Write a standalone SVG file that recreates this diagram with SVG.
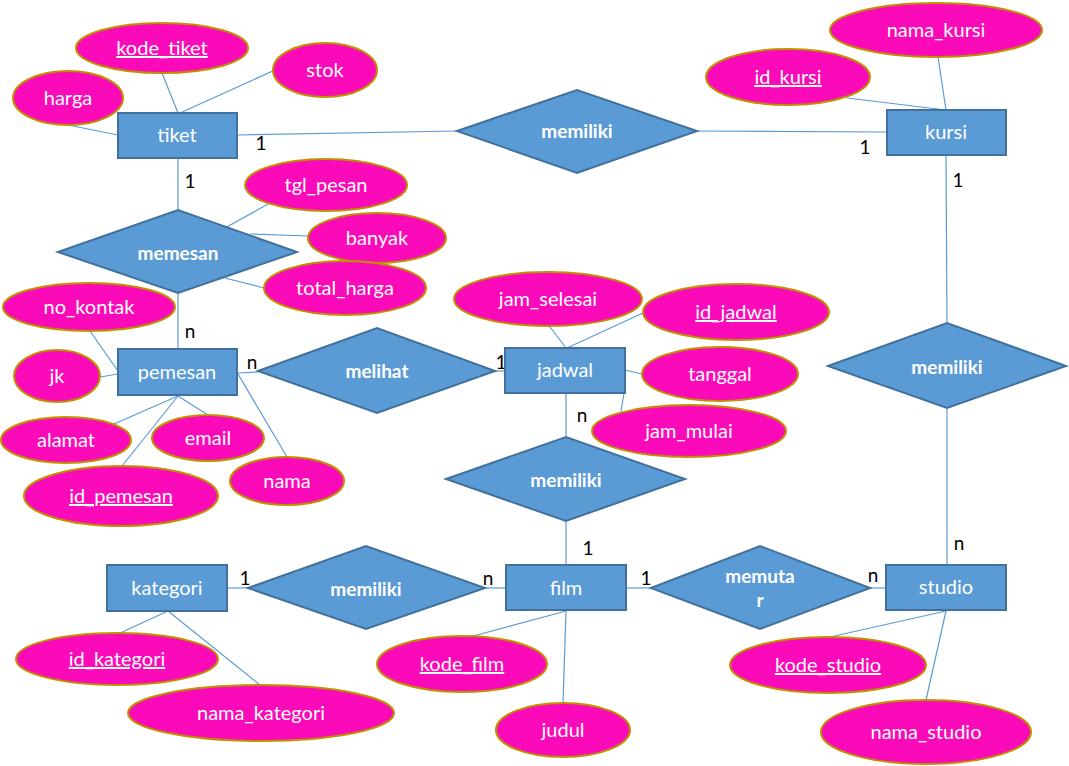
<svg xmlns="http://www.w3.org/2000/svg" width="1069" height="766" viewBox="0 0 1069 766">
<style>
.ent rect{fill:#5B9BD5;stroke:#41719C;stroke-width:2}
.rel polygon{fill:#5B9BD5;stroke:#41719C;stroke-width:2}
.att ellipse{fill:#FA0AB8;stroke:#BF9000;stroke-width:2}
text{font-family:Lato,"Open Sans","Liberation Sans",sans-serif;fill:#fff;text-anchor:middle;font-size:20px}
.rel text{font-weight:bold;font-size:19px}
.key{text-decoration:underline}
.card{fill:#000;font-size:19px}
#connectors line{stroke:#5B9BD5;stroke-width:1.2}
</style>
<rect width="1069" height="766" fill="#fff"/>
<g id="connectors">
<line x1="162" y1="73" x2="178" y2="113"/>
<line x1="275" y1="70" x2="180" y2="113"/>
<line x1="68" y1="125" x2="118" y2="135"/>
<line x1="237" y1="135" x2="457" y2="131"/>
<line x1="178" y1="158" x2="178" y2="210"/>
<line x1="268" y1="204" x2="225" y2="228"/>
<line x1="309" y1="236" x2="250" y2="234"/>
<line x1="264" y1="288" x2="225" y2="278"/>
<line x1="178" y1="293" x2="178" y2="349"/>
<line x1="90" y1="331" x2="118" y2="371"/>
<line x1="100" y1="377" x2="118" y2="374"/>
<line x1="114" y1="424" x2="178" y2="396"/>
<line x1="208" y1="415" x2="178" y2="396"/>
<line x1="122" y1="466" x2="178" y2="396"/>
<line x1="287" y1="457" x2="238" y2="374"/>
<line x1="238" y1="373" x2="258" y2="372"/>
<line x1="495" y1="371" x2="505" y2="371"/>
<line x1="550" y1="327" x2="566" y2="348"/>
<line x1="643" y1="313" x2="567" y2="348"/>
<line x1="642" y1="374" x2="625" y2="370"/>
<line x1="624" y1="393" x2="621" y2="411"/>
<line x1="566" y1="393" x2="566" y2="438"/>
<line x1="566" y1="521" x2="566" y2="565"/>
<line x1="697" y1="131" x2="887" y2="132"/>
<line x1="847" y1="98" x2="946" y2="110"/>
<line x1="938" y1="57" x2="946" y2="110"/>
<line x1="946" y1="155" x2="947" y2="323"/>
<line x1="947" y1="408" x2="947" y2="565"/>
<line x1="227" y1="588" x2="248" y2="588"/>
<line x1="485" y1="588" x2="506" y2="588"/>
<line x1="626" y1="588" x2="651" y2="588"/>
<line x1="870" y1="588" x2="886" y2="588"/>
<line x1="118" y1="634" x2="168" y2="611"/>
<line x1="260" y1="685" x2="168" y2="611"/>
<line x1="466" y1="638" x2="566" y2="611"/>
<line x1="566" y1="611" x2="563" y2="703"/>
<line x1="830" y1="637" x2="946" y2="611"/>
<line x1="926" y1="700" x2="946" y2="611"/>
</g>
<g id="cardinalities">
<text class="card" x="261" y="150">1</text>
<text class="card" x="190" y="188">1</text>
<text class="card" x="190" y="338">n</text>
<text class="card" x="252" y="369">n</text>
<text class="card" x="501" y="369">1</text>
<text class="card" x="582" y="422">n</text>
<text class="card" x="865" y="154">1</text>
<text class="card" x="958" y="187">1</text>
<text class="card" x="959" y="550">n</text>
<text class="card" x="588" y="555">1</text>
<text class="card" x="245" y="585">1</text>
<text class="card" x="488" y="585">n</text>
<text class="card" x="646" y="585">1</text>
<text class="card" x="873" y="582">n</text>
</g>
<g id="tiket" class="ent"><rect x="118" y="113" width="119" height="45"/><text x="177" y="142">tiket</text></g>
<g id="kursi" class="ent"><rect x="887" y="110" width="119" height="45"/><text x="946" y="139">kursi</text></g>
<g id="pemesan" class="ent"><rect x="118" y="349" width="119" height="46"/><text x="177" y="379">pemesan</text></g>
<g id="jadwal" class="ent"><rect x="505" y="348" width="120" height="45"/><text x="565" y="377">jadwal</text></g>
<g id="kategori" class="ent"><rect x="107" y="565" width="120" height="46"/><text x="167" y="595">kategori</text></g>
<g id="film" class="ent"><rect x="506" y="565" width="120" height="45"/><text x="566" y="595">film</text></g>
<g id="studio" class="ent"><rect x="886" y="565" width="120" height="45"/><text x="946" y="594">studio</text></g>
<g id="rel_memiliki_tiket_kursi" class="rel"><polygon points="457,131 577,90 697,131 577,173"/><text x="577" y="138">memiliki</text></g>
<g id="rel_memesan" class="rel"><polygon points="58,252 178,210 297,252 178,293"/><text x="178" y="260">memesan</text></g>
<g id="rel_melihat" class="rel"><polygon points="258,371 377,328 495,371 377,413"/><text x="377" y="378">melihat</text></g>
<g id="rel_memiliki_jadwal_film" class="rel"><polygon points="446,479 566,437 685,479 566,521"/><text x="566" y="487">memiliki</text></g>
<g id="rel_memiliki_kursi_studio" class="rel"><polygon points="828,366 947,323 1066,366 947,408"/><text x="947" y="374">memiliki</text></g>
<g id="rel_memiliki_kategori_film" class="rel"><polygon points="248,588 366,546 485,588 366,629"/><text x="366" y="596">memiliki</text></g>
<g id="rel_memutar" class="rel"><polygon points="651,588 760,546 870,588 760,629"/><text x="760" y="583">memuta</text><text x="760" y="607">r</text></g>
<g id="att_kode_tiket" class="att"><ellipse cx="162" cy="48" rx="86" ry="25"/><text class="key" x="162" y="55">kode_tiket</text></g>
<g id="att_stok" class="att"><ellipse cx="325" cy="70" rx="52" ry="27"/><text x="325" y="77">stok</text></g>
<g id="att_harga" class="att"><ellipse cx="68" cy="98" rx="55" ry="27"/><text x="68" y="105">harga</text></g>
<g id="att_tgl_pesan" class="att"><ellipse cx="326" cy="185" rx="81" ry="26"/><text x="326" y="192">tgl_pesan</text></g>
<g id="att_banyak" class="att"><ellipse cx="377" cy="238" rx="69" ry="25"/><text x="377" y="245">banyak</text></g>
<g id="att_total_harga" class="att"><ellipse cx="345" cy="288" rx="81" ry="27"/><text x="345" y="295">total_harga</text></g>
<g id="att_no_kontak" class="att"><ellipse cx="89" cy="307" rx="86" ry="24"/><text x="89" y="314">no_kontak</text></g>
<g id="att_jk" class="att"><ellipse cx="57" cy="376" rx="43" ry="26"/><text x="57" y="383">jk</text></g>
<g id="att_alamat" class="att"><ellipse cx="66" cy="440" rx="65" ry="23"/><text x="66" y="447">alamat</text></g>
<g id="att_email" class="att"><ellipse cx="208" cy="438" rx="56" ry="23"/><text x="208" y="445">email</text></g>
<g id="att_nama" class="att"><ellipse cx="287" cy="481" rx="57" ry="24"/><text x="287" y="488">nama</text></g>
<g id="att_id_pemesan" class="att"><ellipse cx="121" cy="496" rx="97" ry="30"/><text class="key" x="121" y="503">id_pemesan</text></g>
<g id="att_jam_selesai" class="att"><ellipse cx="548" cy="299" rx="94" ry="27"/><text x="548" y="306">jam_selesai</text></g>
<g id="att_id_jadwal" class="att"><ellipse cx="736" cy="312" rx="93" ry="28"/><text class="key" x="736" y="319">id_jadwal</text></g>
<g id="att_tanggal" class="att"><ellipse cx="720" cy="374" rx="78" ry="27"/><text x="720" y="381">tanggal</text></g>
<g id="att_jam_mulai" class="att"><ellipse cx="689" cy="431" rx="97" ry="26"/><text x="689" y="438">jam_mulai</text></g>
<g id="att_nama_kursi" class="att"><ellipse cx="936" cy="30" rx="106" ry="27"/><text x="936" y="37">nama_kursi</text></g>
<g id="att_id_kursi" class="att"><ellipse cx="788" cy="77" rx="82" ry="28"/><text class="key" x="788" y="84">id_kursi</text></g>
<g id="att_id_kategori" class="att"><ellipse cx="117" cy="659" rx="101" ry="26"/><text class="key" x="117" y="666">id_kategori</text></g>
<g id="att_nama_kategori" class="att"><ellipse cx="261" cy="713" rx="133" ry="28"/><text x="261" y="720">nama_kategori</text></g>
<g id="att_kode_film" class="att"><ellipse cx="462" cy="664" rx="85" ry="28"/><text class="key" x="462" y="671">kode_film</text></g>
<g id="att_judul" class="att"><ellipse cx="563" cy="730" rx="67" ry="27"/><text x="563" y="737">judul</text></g>
<g id="att_kode_studio" class="att"><ellipse cx="828" cy="665" rx="98" ry="28"/><text class="key" x="828" y="672">kode_studio</text></g>
<g id="att_nama_studio" class="att"><ellipse cx="926" cy="732" rx="105" ry="32"/><text x="926" y="739">nama_studio</text></g>
</svg>
